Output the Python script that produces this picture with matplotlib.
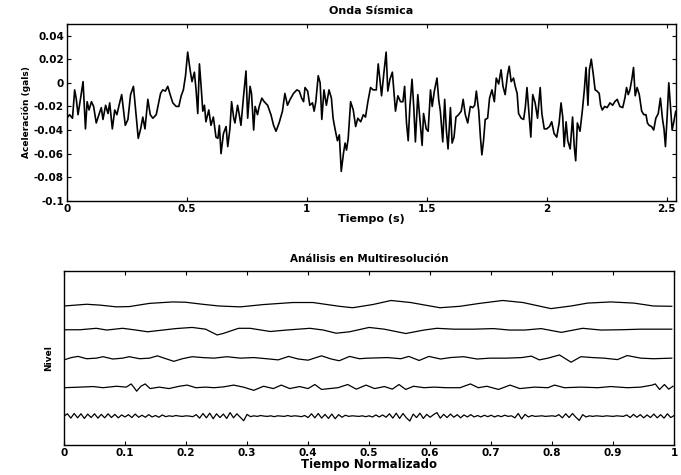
import matplotlib
matplotlib.use("Agg")
import matplotlib.pyplot as plt
import numpy as np

plt.rcParams["font.family"] = ["DejaVu Sans"]
plt.rcParams["font.weight"] = "bold"

# --- onda sismica ---
tiempo = [
    0.000, 0.012, 0.024, 0.033, 0.040, 0.047, 0.057, 0.068, 0.078, 0.085,
    0.093, 0.103, 0.112, 0.123, 0.134, 0.144, 0.151, 0.162, 0.172, 0.179,
    0.190, 0.200, 0.209, 0.218, 0.229, 0.237, 0.244, 0.255, 0.266, 0.278,
    0.290, 0.298, 0.308, 0.317, 0.326, 0.338, 0.348, 0.359, 0.373, 0.381,
    0.391, 0.400, 0.411, 0.421, 0.431, 0.442, 0.456, 0.467, 0.477, 0.486,
    0.495, 0.504, 0.514, 0.522, 0.532, 0.539, 0.546, 0.553, 0.560, 0.567,
    0.574, 0.580, 0.592, 0.601, 0.611, 0.622, 0.630, 0.636, 0.643, 0.653,
    0.664, 0.671, 0.680, 0.687, 0.696, 0.701, 0.712, 0.719, 0.726, 0.737,
    0.747, 0.754, 0.764, 0.770, 0.779, 0.785, 0.795, 0.802, 0.813, 0.823,
    0.837, 0.851, 0.862, 0.872, 0.885, 0.899, 0.909, 0.920, 0.931, 0.945,
    0.959, 0.969, 0.979, 0.987, 0.993, 1.004, 1.013, 1.024, 1.031, 1.038,
    1.048, 1.056, 1.063, 1.072, 1.082, 1.093, 1.103, 1.110, 1.118, 1.128,
    1.136, 1.144, 1.153, 1.160, 1.166, 1.173, 1.183, 1.194, 1.204, 1.213,
    1.225, 1.236, 1.245, 1.255, 1.266, 1.277, 1.290, 1.298, 1.305, 1.312,
    1.322, 1.331, 1.338, 1.347, 1.357, 1.364, 1.370, 1.380, 1.391, 1.401,
    1.408, 1.416, 1.423, 1.430, 1.439, 1.446, 1.453, 1.463, 1.470, 1.481,
    1.487, 1.498, 1.506, 1.516, 1.523, 1.532, 1.543, 1.550, 1.557, 1.567,
    1.575, 1.582, 1.589, 1.599, 1.606, 1.614, 1.622, 1.633, 1.644, 1.652,
    1.661, 1.671, 1.682, 1.692, 1.700, 1.707, 1.717, 1.724, 1.730, 1.737,
    1.744, 1.754, 1.762, 1.772, 1.782, 1.790, 1.800, 1.810, 1.818, 1.827,
    1.837, 1.844, 1.852, 1.862, 1.869, 1.877, 1.883, 1.894, 1.904, 1.911,
    1.918, 1.928, 1.934, 1.942, 1.952, 1.962, 1.973, 1.980, 1.990, 2.000,
    2.012, 2.021, 2.031, 2.042, 2.052, 2.060, 2.067, 2.073, 2.081, 2.088,
    2.098, 2.108, 2.115, 2.121, 2.128, 2.139, 2.149, 2.157, 2.164, 2.172,
    2.178, 2.186, 2.195, 2.202, 2.210, 2.219, 2.225, 2.232, 2.242, 2.252,
    2.264, 2.275, 2.284, 2.294, 2.305, 2.317, 2.326, 2.333, 2.340, 2.347,
    2.355, 2.362, 2.369, 2.377, 2.386, 2.396, 2.405, 2.414, 2.420, 2.427,
    2.437, 2.446, 2.455, 2.465, 2.474, 2.483, 2.489, 2.495, 2.502, 2.509,
    2.516, 2.523, 2.530, 2.538, 2.548,
]
aceleracion = [
    -0.030, -0.027, -0.030, -0.006, -0.014, -0.027, -0.014, 0.001, -0.039, -0.016,
    -0.023, -0.016, -0.020, -0.034, -0.027, -0.021, -0.031, -0.019, -0.026, -0.017,
    -0.039, -0.023, -0.027, -0.019, -0.010, -0.024, -0.036, -0.031, -0.010, -0.003,
    -0.030, -0.047, -0.039, -0.029, -0.039, -0.014, -0.027, -0.030, -0.027, -0.019,
    -0.009, -0.006, -0.007, -0.003, -0.010, -0.017, -0.020, -0.020, -0.011, -0.006,
    0.006, 0.026, 0.011, 0.001, 0.009, -0.006, -0.026, 0.016, -0.003, -0.024,
    -0.019, -0.033, -0.023, -0.036, -0.029, -0.046, -0.047, -0.036, -0.060, -0.043,
    -0.037, -0.054, -0.039, -0.016, -0.030, -0.034, -0.019, -0.027, -0.036, -0.011,
    0.010, -0.030, -0.003, -0.009, -0.040, -0.020, -0.027, -0.020, -0.013, -0.016,
    -0.019, -0.027, -0.036, -0.041, -0.034, -0.024, -0.009, -0.019, -0.014, -0.009,
    -0.006, -0.007, -0.013, -0.016, -0.004, -0.007, -0.019, -0.017, -0.024, -0.016,
    0.006, 0.000, -0.031, -0.006, -0.019, -0.006, -0.013, -0.030, -0.039, -0.049,
    -0.044, -0.075, -0.060, -0.051, -0.057, -0.047, -0.016, -0.023, -0.037, -0.030,
    -0.033, -0.027, -0.029, -0.016, -0.004, -0.006, -0.006, 0.016, 0.003, -0.011,
    0.009, 0.026, -0.007, 0.003, 0.009, -0.009, -0.024, -0.011, -0.016, -0.016,
    -0.003, -0.034, -0.049, -0.020, 0.003, -0.020, -0.050, -0.010, -0.027, -0.053,
    -0.026, -0.039, -0.041, -0.006, -0.020, -0.007, 0.004, -0.014, -0.024, -0.050,
    -0.014, -0.040, -0.056, -0.021, -0.051, -0.046, -0.029, -0.027, -0.024, -0.014,
    -0.027, -0.034, -0.020, -0.021, -0.019, -0.007, -0.024, -0.046, -0.061, -0.049,
    -0.031, -0.030, -0.013, -0.006, -0.016, 0.004, -0.001, 0.011, -0.003, -0.010,
    0.007, 0.014, 0.001, 0.004, -0.003, -0.009, -0.026, -0.030, -0.031, -0.021,
    -0.004, -0.031, -0.046, -0.010, -0.017, -0.030, -0.004, -0.026, -0.039, -0.039,
    -0.037, -0.033, -0.043, -0.046, -0.034, -0.017, -0.029, -0.054, -0.033, -0.049,
    -0.056, -0.029, -0.054, -0.066, -0.034, -0.041, -0.023, -0.006, 0.013, -0.019,
    0.011, 0.020, 0.006, -0.006, -0.007, -0.009, -0.019, -0.023, -0.020, -0.021,
    -0.017, -0.019, -0.016, -0.014, -0.020, -0.021, -0.013, -0.004, -0.010, -0.006,
    0.003, 0.013, -0.011, -0.004, -0.010, -0.024, -0.027, -0.027, -0.034, -0.036,
    -0.037, -0.040, -0.030, -0.026, -0.013, -0.031, -0.039, -0.054, -0.029, 0.000,
    -0.020, -0.040, -0.033, -0.024, -0.031,
]
ticks_sup_x = [0, 0.5, 1, 1.5, 2, 2.5]
etiq_sup_x = ["0", "0.5", "1", "1.5", "2", "2.5"]
ticks_sup_y = [0.04, 0.02, 0, -0.02, -0.04, -0.06, -0.08, -0.1]
etiq_sup_y = ["0.04", "0.02", "0", "-0.02", "-0.04", "-0.06", "-0.08", "-0.1"]

# --- multiresolucion (niveles) ---
aprox_t = [0.000, 0.037, 0.059, 0.086, 0.107, 0.140, 0.178, 0.199, 0.227, 0.254,
           0.289, 0.327, 0.375, 0.408, 0.451, 0.473, 0.506, 0.536, 0.568, 0.616,
           0.649, 0.681, 0.719, 0.752, 0.798, 0.831, 0.858, 0.896, 0.934, 0.966,
           0.996]
aprox = [-0.20, -0.14, -0.17, -0.23, -0.22, -0.11, -0.06, -0.07, -0.14, -0.20,
         -0.23, -0.15, -0.08, -0.08, -0.21, -0.26, -0.15, -0.01, -0.08, -0.26,
         -0.21, -0.11, -0.01, -0.08, -0.29, -0.20, -0.10, -0.06, -0.10, -0.20,
         -0.21]

det4_t = [0.000, 0.026, 0.053, 0.070, 0.096, 0.118, 0.137, 0.162, 0.183, 0.210,
          0.232, 0.251, 0.262, 0.286, 0.305, 0.338, 0.365, 0.403, 0.425, 0.446,
          0.468, 0.500, 0.525, 0.560, 0.590, 0.611, 0.639, 0.671, 0.704, 0.730,
          0.755, 0.782, 0.815, 0.850, 0.880, 0.912, 0.945, 0.996]
det4 = [-0.02, -0.02, 0.03, -0.03, 0.03, -0.03, -0.09, -0.03, 0.02, 0.06,
        0.00, -0.20, -0.14, 0.03, 0.03, -0.08, -0.03, 0.03, -0.03, -0.14,
        -0.09, 0.06, 0.00, -0.15, -0.03, 0.03, 0.00, 0.00, 0.02, -0.03,
        -0.03, 0.02, -0.11, 0.03, -0.03, -0.02, 0.00, 0.00]

det3_t = [0.000, 0.012, 0.023, 0.037, 0.053, 0.064, 0.080, 0.096, 0.107, 0.124,
          0.140, 0.153, 0.167, 0.180, 0.194, 0.210, 0.227, 0.246, 0.267, 0.289,
          0.311, 0.332, 0.351, 0.368, 0.384, 0.400, 0.422, 0.438, 0.451, 0.468,
          0.484, 0.498, 0.530, 0.552, 0.565, 0.582, 0.598, 0.617, 0.633, 0.655,
          0.677, 0.698, 0.725, 0.750, 0.766, 0.779, 0.793, 0.812, 0.831, 0.847,
          0.866, 0.885, 0.907, 0.923, 0.945, 0.966, 0.996]
det3 = [-0.06, 0.02, 0.06, -0.02, 0.00, 0.05, -0.03, 0.00, 0.05, -0.02,
        0.00, 0.08, -0.02, -0.11, -0.02, 0.05, 0.02, 0.00, 0.05, 0.00,
        0.02, -0.02, -0.06, 0.06, -0.03, -0.07, 0.08, -0.03, -0.09, 0.06,
        -0.02, 0.00, 0.02, -0.02, 0.06, -0.08, 0.06, -0.03, 0.02, 0.05,
        -0.03, 0.00, 0.00, 0.02, 0.07, -0.06, 0.00, 0.11, -0.14, 0.05,
        0.02, 0.00, -0.05, 0.09, 0.00, -0.02, 0.00]

det2_t = [0.000, 0.026, 0.048, 0.064, 0.086, 0.102, 0.110, 0.115, 0.119, 0.126,
          0.133, 0.141, 0.156, 0.172, 0.189, 0.202, 0.216, 0.232, 0.246, 0.262,
          0.278, 0.294, 0.311, 0.327, 0.343, 0.356, 0.370, 0.386, 0.400, 0.411,
          0.422, 0.435, 0.449, 0.465, 0.479, 0.495, 0.509, 0.525, 0.538, 0.549,
          0.560, 0.573, 0.590, 0.606, 0.627, 0.649, 0.666, 0.679, 0.693, 0.712,
          0.731, 0.747, 0.771, 0.793, 0.804, 0.820, 0.847, 0.875, 0.896, 0.923,
          0.945, 0.964, 0.969, 0.976, 0.984, 0.991, 0.998]
det2 = [-0.02, 0.00, 0.02, -0.02, 0.03, 0.00, 0.11, -0.02, -0.14, 0.03,
        0.11, -0.05, 0.00, -0.05, 0.03, 0.07, -0.02, 0.00, -0.02, 0.01,
        0.07, 0.00, -0.11, 0.03, -0.05, 0.07, -0.05, 0.02, -0.05, 0.09,
        -0.08, -0.05, -0.02, 0.09, -0.07, 0.07, -0.05, 0.02, -0.07, 0.09,
        -0.08, 0.03, -0.02, 0.00, -0.02, -0.02, 0.11, -0.02, 0.03, -0.08,
        0.07, -0.05, 0.00, -0.02, 0.07, -0.02, 0.00, -0.02, 0.02, -0.02,
        0.00, 0.07, 0.11, -0.08, 0.09, -0.07, 0.03]

# nivel mas fino, muestreado a paso regular
det1 = [
    0.00, 0.08, -0.07, 0.09, -0.06, 0.08, -0.08, 0.07, -0.05, 0.08,
    -0.07, 0.06, -0.06, 0.08, -0.05, 0.06, -0.06, 0.04, -0.03, 0.05,
    -0.05, 0.07, -0.04, 0.03, -0.04, 0.05, -0.03, 0.02, -0.04, 0.04,
    -0.02, 0.01, -0.01, 0.02, 0.00, -0.01, 0.01, 0.00, -0.02, 0.05,
    -0.07, 0.09, -0.06, 0.10, -0.09, 0.08, -0.05, 0.07, -0.08, 0.12,
    -0.06, 0.08, -0.04, -0.16, 0.06, -0.02, 0.01, -0.01, 0.02, 0.00,
    -0.01, 0.01, -0.02, 0.01, 0.00, -0.01, 0.02, -0.01, 0.01, 0.00,
    -0.02, 0.02, -0.05, 0.08, -0.06, 0.09, -0.07, 0.06, -0.08, 0.07,
    -0.09, 0.05, -0.04, 0.03, -0.01, 0.01, 0.00, -0.01, 0.01, -0.02,
    0.01, -0.03, 0.04, -0.03, 0.04, -0.04, 0.08, -0.07, 0.10, -0.08,
    0.09, -0.06, -0.17, 0.07, -0.05, 0.10, -0.08, 0.06, -0.04, 0.05,
    0.12, -0.07, 0.06, -0.05, 0.07, -0.04, 0.05, -0.06, 0.04, -0.03,
    0.05, -0.03, 0.02, -0.03, 0.03, -0.02, 0.03, -0.03, 0.02, -0.02,
    0.03, -0.01, 0.01, -0.06, 0.09, -0.10, 0.06, -0.03, 0.02, -0.01,
    0.00, 0.01, -0.01, 0.00, 0.01, -0.01, 0.05, -0.06, 0.08, -0.05,
    0.09, -0.04, -0.15, 0.05, -0.03, 0.01, -0.01, 0.01, 0.00, -0.01,
    0.01, 0.00, -0.01, 0.01, 0.00, -0.01, 0.04, -0.05, 0.06, -0.04,
    0.05, -0.06, 0.04, -0.05, 0.07, -0.06, 0.05, -0.07, 0.08, -0.05,
    0.02,
]
det1_t = np.linspace(0, 1, len(det1))

ticks_inf_x = [0, 0.1, 0.2, 0.3, 0.4, 0.5, 0.6, 0.7, 0.8, 0.9, 1]
etiq_inf_x = ["0", "0.1", "0.2", "0.3", "0.4", "0.5", "0.6", "0.7", "0.8", "0.9", "1"]


def estilo(ax):
    ax.tick_params(direction="in", top=True, right=True, length=3,
                   width=0.8, labelsize=7.5, pad=2)
    for s in ax.spines.values():
        s.set_linewidth(1.0)


fig = plt.figure(figsize=(6.81, 4.75), dpi=100)

# arriba
ax1 = fig.add_axes([0.098, 0.577, 0.895, 0.373])
ax1.plot(tiempo, aceleracion, color="black", lw=1.2)
ax1.set_xlim(0, 2.54)
ax1.set_ylim(-0.1, 0.05)
ax1.set_xticks(ticks_sup_x)
ax1.set_xticklabels(etiq_sup_x)
ax1.set_yticks(ticks_sup_y)
ax1.set_yticklabels(etiq_sup_y)
estilo(ax1)
ax1.set_title("Onda Sísmica", fontsize=8, fontweight="bold", pad=7)
ax1.set_xlabel("Tiempo (s)", fontsize=8, fontweight="bold", labelpad=0)
ax1.set_ylabel("Aceleración (gals)", fontsize=6.5, fontweight="bold", labelpad=2)

# abajo
ax2 = fig.add_axes([0.094, 0.063, 0.896, 0.366])
niveles = [(aprox_t, aprox, 5), (det4_t, det4, 4), (det3_t, det3, 3),
           (det2_t, det2, 2), (det1_t, det1, 1)]
for xs, ys, off in niveles:
    ax2.plot(xs, np.array(ys) + off, color="black", lw=0.9)
ax2.set_xlim(0, 1)
ax2.set_ylim(0, 6)
ax2.set_xticks(ticks_inf_x)
ax2.set_xticklabels(etiq_inf_x)
ax2.set_yticks([])
estilo(ax2)
ax2.set_title("Análisis en Multiresolución", fontsize=7.5, fontweight="bold", pad=7)
ax2.set_xlabel("Tiempo Normalizado", fontsize=8.5, fontweight="bold", labelpad=0)
ax2.set_ylabel("Nivel", fontsize=6.5, fontweight="bold", labelpad=8)

fig.savefig("out.png", dpi=100)
